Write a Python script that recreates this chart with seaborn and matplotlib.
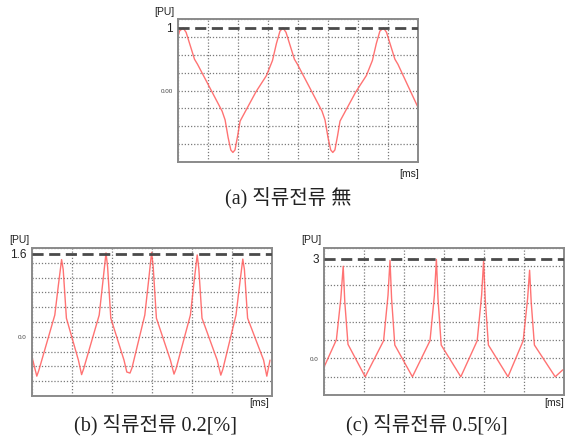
import numpy as np
import pandas as pd
import matplotlib
matplotlib.use("Agg")
import matplotlib.pyplot as plt
import matplotlib.transforms as mtransforms
import seaborn as sns

# ---------------- data (x in grid divisions, y in PU) ----------------
a_x = [0.00, 0.05, 0.17, 0.27, 0.42, 0.55, 0.65, 1.00, 1.47, 1.57, 1.67, 1.76, 1.83, 1.90,
       1.99, 2.07, 2.25, 2.60, 2.95, 3.15, 3.28, 3.40, 3.50, 3.60, 3.75, 3.88, 3.98, 4.33,
       4.80, 4.90, 5.00, 5.09, 5.16, 5.23, 5.32, 5.40, 5.58, 5.93, 6.28, 6.48, 6.61, 6.73,
       6.85, 6.95, 7.10, 7.23, 7.33, 8.00]
a_y = [0.86, 0.95, 1.00, 0.93, 0.70, 0.50, 0.42, 0.10, -0.33, -0.47, -0.75, -0.95, -0.99, -0.95,
       -0.72, -0.49, -0.33, -0.02, 0.24, 0.48, 0.75, 0.95, 1.00, 0.93, 0.70, 0.50, 0.42, 0.10,
       -0.33, -0.47, -0.75, -0.95, -0.99, -0.95, -0.72, -0.49, -0.33, -0.02, 0.24, 0.48, 0.75, 0.95,
       1.00, 0.93, 0.70, 0.50, 0.42, -0.27]

b_x = [0.00, 0.12, 0.17, 0.57, 0.66, 0.74, 0.78, 0.86, 1.16, 1.24, 1.29, 1.68, 1.77, 1.85,
       1.89, 1.97, 2.30, 2.37, 2.45, 2.50, 2.82, 2.91, 2.99, 3.03, 3.11, 3.46, 3.55, 3.60,
       3.96, 4.05, 4.13, 4.17, 4.25, 4.63, 4.72, 4.77, 5.10, 5.19, 5.27, 5.31, 5.39, 5.79,
       5.87, 5.95]
b_y = [-0.39, -0.76, -0.65, 0.42, 1.00, 1.49, 1.30, 0.36, -0.45, -0.73, -0.62, 0.42, 1.05, 1.62,
       1.35, 0.36, -0.45, -0.68, -0.70, -0.60, 0.42, 1.05, 1.63, 1.35, 0.36, -0.45, -0.72, -0.62,
       0.42, 1.05, 1.58, 1.32, 0.36, -0.45, -0.74, -0.63, 0.42, 1.00, 1.50, 1.30, 0.36, -0.45,
       -0.76, -0.45]

c_x = [0.00, 0.31, 0.42, 0.48, 0.52, 0.60, 1.03, 1.49, 1.60, 1.65, 1.69, 1.77, 2.21, 2.65,
       2.76, 2.81, 2.85, 2.93, 3.42, 3.83, 3.94, 3.99, 4.03, 4.11, 4.60, 4.98, 5.09, 5.14,
       5.18, 5.26, 5.78, 5.97]
c_y = [-0.27, 0.56, 1.80, 2.78, 1.70, 0.42, -0.56, 0.53, 1.90, 2.96, 1.80, 0.40, -0.56, 0.53,
       1.90, 2.99, 1.80, 0.40, -0.56, 0.53, 1.90, 2.94, 1.80, 0.40, -0.56, 0.53, 1.80, 2.66,
       1.70, 0.40, -0.56, -0.35]

ref_levels = [1.0, 1.6, 3.0]
ref_labels = ["1", "1.6", "3"]
zero_labels = ["0.00", "0.0", "0.0"]
captions = ["(a) 직류전류 無", "(b) 직류전류 0.2[%]", "(c) 직류전류 0.5[%]"]

# ---------------- style ----------------
sns.set_style("white")
plt.rcParams['font.family'] = ['Liberation Sans', 'DejaVu Sans']

W, H = 565, 439
fig = plt.figure(figsize=(W / 100, H / 100), dpi=100)

def px_axes(l, t, r, b):
    return fig.add_axes([l / W, 1 - b / H, (r - l) / W, (b - t) / H])

panels = [
    dict(box=(178, 20, 418, 163), x=a_x, y=a_y, ndx=8, step=1 / 3.5, ylo=-4, yhi=4),
    dict(box=(32, 249, 272, 397), x=b_x, y=b_y, ndx=6, step=1 / 3.5, ylo=-4, yhi=6),
    dict(box=(324, 249, 564, 396), x=c_x, y=c_y, ndx=6, step=5 / 9, ylo=-2, yhi=6),
]

for i, p in enumerate(panels):
    ax = px_axes(*p["box"])
    df = pd.DataFrame({"t": p["x"], "v": p["y"]})
    sns.lineplot(data=df, x="t", y="v", ax=ax, color="#ff5a5a", lw=1.0, alpha=0.85,
                 sort=False, estimator=None)
    ax.axhline(ref_levels[i], color="#4a4a4a", lw=2.0, ls=(0, (4, 2)), zorder=3)
    ax.set_xlim(0, p["ndx"])
    ax.set_ylim(p["ylo"] * p["step"], p["yhi"] * p["step"])
    ax.set_xticks(np.arange(0, p["ndx"] + 1))
    ax.set_yticks([k * p["step"] for k in range(p["ylo"], p["yhi"] + 1)])
    ax.set_xticklabels([])
    ax.set_yticklabels([])
    ax.tick_params(length=0)
    ax.grid(True, color="#7a7a7a", ls=(0, (1, 1.5)), lw=0.9)
    ax.set_xlabel("")
    ax.set_ylabel("")
    for s in ax.spines.values():
        s.set_color("#8a8a8a")
        s.set_linewidth(1.4)
    trans = mtransforms.blended_transform_factory(ax.transAxes, ax.transData)
    off = mtransforms.offset_copy(trans, fig=fig, x=-5, y=0, units="dots")
    ax.text(0, ref_levels[i], ref_labels[i], transform=off, ha="right", va="center",
            fontsize=8.5, color="#222222")
    ax.text(0, 0, zero_labels[i], transform=off, ha="right", va="center",
            fontsize=4.5, color="#444444")

def ftext(x, y, s, **kw):
    fig.text(x / W, 1 - y / H, s, **kw)

# [PU] and [ms] labels
ftext(164, 12, "[PU]", ha="center", va="center", fontsize=7.5, color="#222222")
ftext(409, 174, "[ms]", ha="center", va="center", fontsize=7.5, color="#222222")
ftext(19, 240, "[PU]", ha="center", va="center", fontsize=7.5, color="#222222")
ftext(259, 403, "[ms]", ha="center", va="center", fontsize=7.5, color="#222222")
ftext(311, 240, "[PU]", ha="center", va="center", fontsize=7.5, color="#222222")
ftext(554, 403, "[ms]", ha="center", va="center", fontsize=7.5, color="#222222")

cap_font = ['Liberation Serif', 'Noto Sans CJK KR']
ftext(288, 198, captions[0], ha="center", va="center", fontsize=14.5, family=cap_font, color="#222222")
ftext(156, 425, captions[1], ha="center", va="center", fontsize=14.5, family=cap_font, color="#222222")
ftext(427, 425, captions[2], ha="center", va="center", fontsize=14.5, family=cap_font, color="#222222")

fig.savefig("out.png", dpi=100, facecolor="white")
